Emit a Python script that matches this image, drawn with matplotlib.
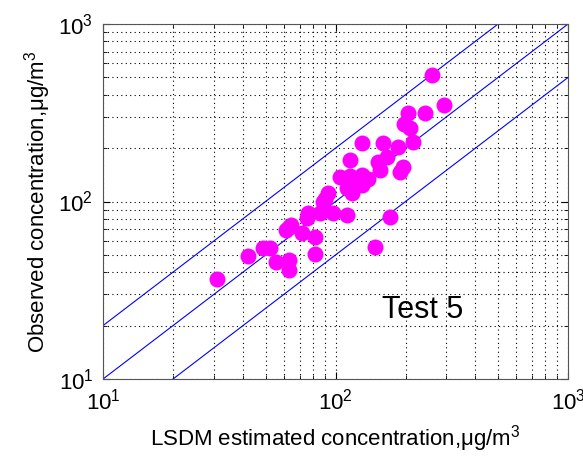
import matplotlib
matplotlib.use("Agg")
import matplotlib.pyplot as plt
import numpy as np

plt.rcParams['font.family'] = ['Liberation Sans', 'DejaVu Sans']
plt.rcParams['mathtext.fontset'] = 'custom'
plt.rcParams['mathtext.rm'] = 'Liberation Sans'
plt.rcParams['mathtext.it'] = 'Liberation Sans'

# estimated (LSDM) vs observed concentrations, ug/m3
estimated = [30.9, 42.0, 48.8, 52.2, 55.5, 63.1, 63.1, 63.1, 61.2, 64.4,
             71.8, 81.7, 81.7, 76.2, 85.8, 97.5, 112, 90.2, 92.9, 104.5,
             115, 121, 130, 138, 112, 118, 130, 115, 130, 160,
             152, 167, 186, 195, 189, 171, 148, 215, 197, 209,
             205, 243, 293, 260, 88.3, 75.3, 155]
observed = [36.6, 49.3, 54.7, 54.7, 45.6, 46.8, 41.1, 71.8, 69.0, 73.8,
            66.5, 63.1, 50.6, 86.1, 86.1, 86.1, 83.9, 103, 112, 137,
            139, 132, 141, 134, 119, 112, 124, 171, 214, 214,
            167, 178, 203, 156, 147, 81.8, 55.5, 216, 273, 259,
            315, 315, 350, 516, 99.3, 80.7, 150]

line_x = np.array([10, 1000])
ratios = [2.0, 1.0, 0.5]

fig = plt.figure(figsize=(5.83, 4.63), dpi=100)
ax = fig.add_axes([0.1767, 0.1814, 0.7976, 0.7667])

for r in ratios:
    ax.plot(line_x, line_x * r, color='blue', lw=0.8, zorder=2)

ax.plot(estimated, observed, 'o', color='#ff00ff', markersize=11.5,
        markeredgewidth=0, zorder=3)

ax.set_xscale('log')
ax.set_yscale('log')
ax.set_xlim(10, 1000)
ax.set_ylim(10, 1000)
ax.grid(True, which='both', linestyle=(0, (1, 3)), color='black', lw=0.8)
ax.tick_params(which='both', direction='in', top=True, right=True,
               labelsize=16, pad=7)
ax.tick_params(which='major', length=5)
ax.tick_params(which='minor', length=3)
for s in ax.spines.values():
    s.set_color('#555555')

ax.text(158, 22, 'Test 5', fontsize=22, va='baseline')

ax.set_xlabel('LSDM estimated concentration,μg/m$^3$', fontsize=16, labelpad=6)
ax.set_ylabel('Observed concentration,μg/m$^3$', fontsize=16, labelpad=4)

fig.savefig('out.png', dpi=100)
